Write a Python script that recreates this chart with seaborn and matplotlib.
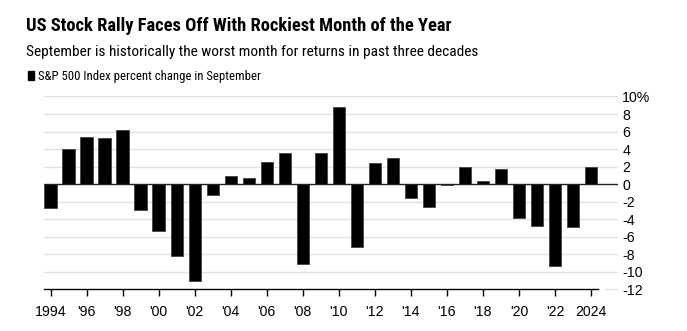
import matplotlib
matplotlib.use("Agg")
import matplotlib.pyplot as plt
import seaborn as sns
import pandas as pd

years = list(range(1994, 2025))
pct_change = [-2.7, 4.0, 5.4, 5.3, 6.2, -2.9, -5.3, -8.2, -11.0, -1.2,
              0.9, 0.7, 2.5, 3.6, -9.1, 3.6, 8.8, -7.2, 2.4, 3.0,
              -1.6, -2.6, -0.1, 1.9, 0.4, 1.7, -3.9, -4.8, -9.3, -4.9, 2.0]
tick_years = list(range(1994, 2025, 2))
tick_labels = ["1994", "'96", "'98", "'00", "'02", "'04", "'06", "'08", "'10",
               "'12", "'14", "'16", "'18", "'20", "'22", "2024"]
y_ticks = list(range(-12, 11, 2))
y_labels = ["-12", "-10", "-8", "-6", "-4", "-2", "0", "2", "4", "6", "8", "10%"]

title = "US Stock Rally Faces Off With Rockiest Month of the Year"
subtitle = "September is historically the worst month for returns in past three decades"
legend_label = "S&P 500 Index percent change in September"

df = pd.DataFrame({"year": years, "pct": pct_change})

sns.set_theme(style="white")
plt.rcParams["font.family"] = ["Liberation Sans", "DejaVu Sans"]
narrow = ["Roboto Condensed", "Roboto", "Liberation Sans", "DejaVu Sans"]

fig = plt.figure(figsize=(6.87, 3.31), dpi=100)
ax = fig.add_axes([0.064, 0.126, 0.8356, 0.5825])

for yv in y_ticks:
    if yv != 0 and yv != -12:
        ax.axhline(yv, color="#e2e2e2", lw=1.0, zorder=0)

sns.barplot(data=df, x="year", y="pct", native_scale=True, width=0.69,
            color="black", saturation=1, edgecolor="#444444", linewidth=0.6,
            ax=ax, zorder=2)

ax.axhline(0, color="#222222", lw=1.0, zorder=3)
ax.set_xlim(1993.63, 2025.5)
ax.set_ylim(-12, 10)

for s in ["top", "left", "right"]:
    ax.spines[s].set_visible(False)
ax.spines["bottom"].set_color("black")
ax.spines["bottom"].set_linewidth(1.0)
ax.spines["bottom"].set_bounds(1993.63, 2024.4)
ax.plot([2024.75, 2025.5], [-12, -12], color="#e2e2e2", lw=1.0, clip_on=False, zorder=0)

ax.set_xticks(tick_years)
ax.set_xticklabels(tick_labels, fontsize=10.2, color="black")
ax.tick_params(axis="x", length=5, width=1, color="black", pad=6, bottom=True)

ax.yaxis.tick_right()
ax.set_yticks(y_ticks)
ax.set_yticklabels(y_labels, fontsize=10.2, color="black")
ax.tick_params(axis="y", length=0, pad=3, right=False)
for lbl in ax.get_yticklabels():
    lbl.set_horizontalalignment("left")

ax.set_xlabel("")
ax.set_ylabel("")
ax.grid(False)

fig.text(0.038, 0.906, title, fontsize=13.3, fontweight="bold", color="black", ha="left",
         family=narrow)
fig.text(0.038, 0.831, subtitle, fontsize=11.1, color="black", ha="left", family=narrow)
fig.patches.append(matplotlib.patches.Rectangle((28 / 687, 1 - 80 / 331), 6 / 687, 9 / 331,
                                                transform=fig.transFigure, color="black"))
fig.text(0.056, 0.758, legend_label, fontsize=9.2, color="black", ha="left", family=narrow)

fig.savefig("out.png", dpi=100)
